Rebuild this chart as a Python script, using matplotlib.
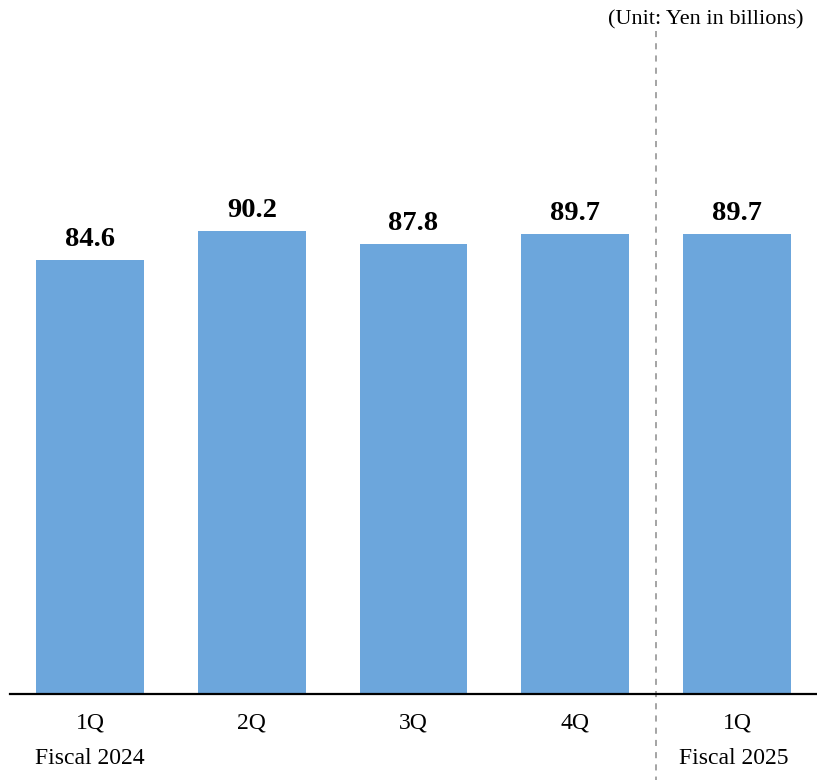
import matplotlib.pyplot as plt

plt.rcParams['font.family'] = ['Liberation Serif', 'DejaVu Serif']

quarters = ['1Q', '2Q', '3Q', '4Q', '1Q']
values = [84.6, 90.2, 87.8, 89.7, 89.7]
fiscal_pos = [0, 4]
fiscal_names = ['Fiscal 2024', 'Fiscal 2025']
unit_text = '(Unit: Yen in billions)'

fig = plt.figure(figsize=(8.17, 7.80), dpi=100)
ax = fig.add_axes([10 / 817, 86 / 780, 807 / 817, 694 / 780])

x = list(range(len(values)))
ax.bar(x, values, width=0.667, color='#6CA6DC')

# value labels above bars
for i, v in zip(x, values):
    ax.annotate(f'{v:.1f}', xy=(i, v), xytext=(0, 14), textcoords='offset pixels',
                ha='center', va='baseline', fontsize=20.5, fontweight='bold')

# quarter and fiscal year labels under the axis
for i, q in zip(x, quarters):
    ax.annotate(q, xy=(i, 0), xycoords=('data', 'axes fraction'),
                xytext=(0, -29), textcoords='offset pixels',
                ha='center', va='center', fontsize=17, annotation_clip=False)
for i, lab, dx in zip(fiscal_pos, fiscal_names, [0, -3]):
    ax.annotate(lab, xy=(i, 0), xycoords=('data', 'axes fraction'),
                xytext=(dx, -64), textcoords='offset pixels',
                ha='center', va='center', fontsize=17, annotation_clip=False)

# divider between fiscal years
ax.plot([3.5, 3.5], [1 - 31 / 694, -86 / 694], transform=ax.get_xaxis_transform(),
        color='#8c8c8c', linestyle=(0, (4, 4)), linewidth=1.1, clip_on=False)

fig.text(804 / 817, 1 - 20 / 780, unit_text, ha='right', va='center', fontsize=16)

ax.set_xlim(-0.495, 4.495)
ax.set_ylim(0, 135.3)
ax.set_xticks([])
ax.set_yticks([])
for s in ['top', 'right', 'left']:
    ax.spines[s].set_visible(False)
ax.spines['bottom'].set_linewidth(1.6)
ax.patch.set_alpha(0)

fig.savefig('out.png', dpi=100)
